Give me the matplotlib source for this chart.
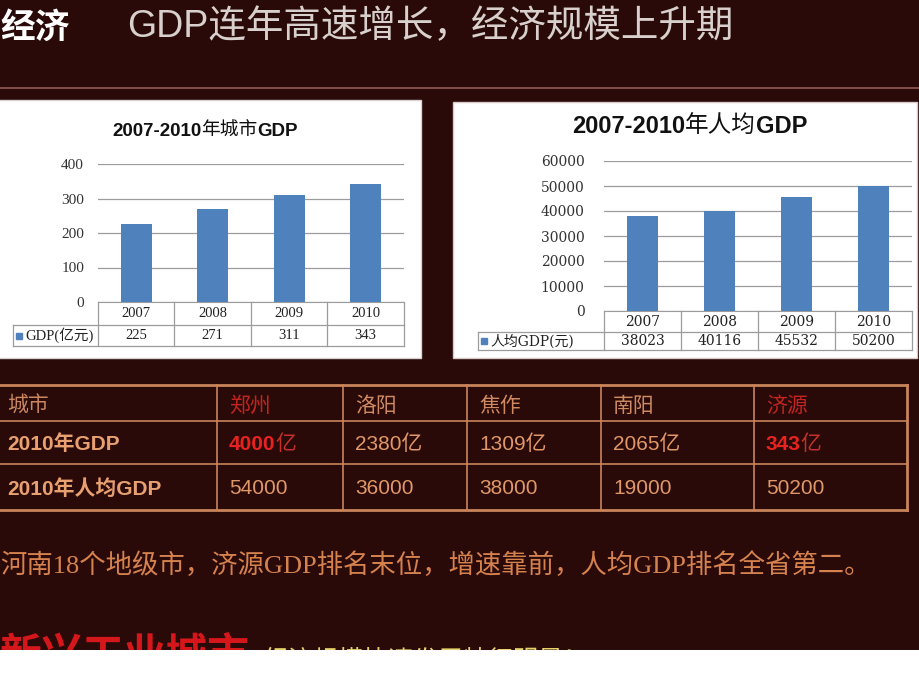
import matplotlib.pyplot as plt
from matplotlib.patches import Rectangle

# ── Data ──────────────────────────────────────────────────────────────────────
years = ["2007", "2008", "2009", "2010"]
city_gdp = [225, 271, 311, 343]                  # 亿元
per_capita_gdp = [38023, 40116, 45532, 50200]    # 元

cities = ["郑州", "洛阳", "焦作", "南阳", "济源"]
gdp_2010 = [4000, 2380, 1309, 2065, 343]         # 亿
per_capita_2010 = [54000, 36000, 38000, 19000, 50200]
highlight = ["郑州", "济源"]

# ── Styles ────────────────────────────────────────────────────────────────────
W, H = 920, 690
BG = "#2a0a08"
BAR = "#4f81bd"
GRID = "#9c9c9c"
ORANGE = "#e09868"
RED = "#c22420"
BRIGHT_RED = "#e8231f"
CJK = "Noto Sans CJK SC"
SANS = ["Liberation Sans", CJK]
SERIF = ["Liberation Serif", CJK]
WSERIF = ["DejaVu Serif", CJK]

plt.rcParams["font.family"] = SANS

fig = plt.figure(figsize=(W / 100, H / 100), dpi=100, facecolor=BG)

# full-figure canvas in pixel coordinates (y downwards)
ax0 = fig.add_axes([0, 0, 1, 1])
ax0.set_xlim(0, W)
ax0.set_ylim(H, 0)
ax0.axis("off")


def px_rect(x0, y0, x1, y1):
    return [x0 / W, 1 - y1 / H, (x1 - x0) / W, (y1 - y0) / H]


def chain(ax, x, y, parts, fontsize, **kw):
    """Draw text pieces one after another on the first piece's baseline."""
    s, fd = parts[0]
    first = ax.text(x, y, s, ha="left", va="baseline", fontsize=fontsize,
                    **fd, **kw)
    t = first
    for s, fd in parts[1:]:
        # x from previous piece, y from first piece (bbox bottom = baseline - descent)
        t = ax.annotate(s, xy=(1, 0), xycoords=(t, first), ha="left",
                        va="baseline", xytext=(0, 0.21 * fontsize),
                        textcoords="offset points", fontsize=fontsize,
                        **fd, **kw)
    return t


# ── Header ────────────────────────────────────────────────────────────────────
ax0.text(0, 27, "经济", color="white", fontsize=25, fontweight="bold",
         family=CJK, va="center", ha="left")
ax0.text(127, 27, "GDP连年高速增长，经济规模上升期", color="#d8d0cc",
         fontsize=27, family=SANS, va="center", ha="left")
ax0.plot([0, W], [88, 88], color="#8a5552", lw=1.3)

# ── Panels ────────────────────────────────────────────────────────────────────
ax0.add_patch(Rectangle((-2, 100), 423, 258, facecolor="white",
                        edgecolor="#d8d0d0", lw=1))
ax0.add_patch(Rectangle((453, 102), 464, 256, facecolor="white",
                        edgecolor="#d8c8c8", lw=1))

bold_sans = dict(family="Liberation Sans", fontweight="bold")
light_cjk = dict(family=CJK, fontweight="normal")

chain(ax0, 112, 136, [("2007-2010", bold_sans), ("年城市", light_cjk),
                      ("GDP", bold_sans)], 13.5, color="#111111")
chain(ax0, 572, 133, [("2007-2010", bold_sans), ("年人均", light_cjk),
                      ("GDP", bold_sans)], 17, color="#111111")


def bar_panel(rect, values, ymax, step, legend_label, fam, tick_size,
              tick_pad, table_size, rows, legend_left):
    x0, y0, x1, y1 = rect
    ax = fig.add_axes(px_rect(x0, y0, x1, y1))
    ax.set_facecolor("none")
    n = len(years)
    xs = list(range(n))
    ax.bar(xs, values, width=0.41, color=BAR, zorder=3)
    ax.set_xlim(-0.5, n - 0.5)
    ax.set_ylim(0, ymax)
    ticks = list(range(0, ymax + 1, step))
    ax.set_yticks(ticks, labels=[str(t) for t in ticks], family=fam,
                  fontsize=tick_size, color="#333333")
    ax.tick_params(axis="y", length=0, pad=tick_pad)
    ax.set_xticks([])
    ax.yaxis.grid(True, color=GRID, lw=0.9, zorder=0)
    for side in ("top", "right", "left"):
        ax.spines[side].set_visible(False)
    ax.spines["bottom"].set_color(GRID)

    # data table under the plot
    trans = ax.get_xaxis_transform()
    hp = y1 - y0
    r1 = -rows[0] / hp
    r2 = -(rows[0] + rows[1]) / hp
    xl = -0.5 + (legend_left - x0) / (x1 - x0) * n
    lk = dict(transform=trans, clip_on=False, color=GRID, lw=0.9)
    for b in [i - 0.5 for i in range(n + 1)]:
        ax.plot([b, b], [0, r2], **lk)
    ax.plot([xl, xl], [r1, r2], **lk)
    ax.plot([xl, n - 0.5], [r1, r1], **lk)
    ax.plot([xl, n - 0.5], [r2, r2], **lk)
    for i, (yr, v) in enumerate(zip(years, values)):
        ax.text(i, r1 / 2, yr, transform=trans, ha="center", va="center",
                family=fam, fontsize=table_size, color="#222222")
        ax.text(i, (r1 + r2) / 2, f"{v}", transform=trans, ha="center",
                va="center", family=fam, fontsize=table_size, color="#222222")
    unit = n / (x1 - x0)
    ax.plot([xl + 6 * unit], [(r1 + r2) / 2], marker="s", ms=5, color=BAR,
            transform=trans, clip_on=False)
    ax.text(xl + 12 * unit, (r1 + r2) / 2, legend_label, transform=trans,
            ha="left", va="center", family=fam, fontsize=table_size,
            color="#222222")
    return ax


bar_panel((98, 164, 404, 302), city_gdp, 400, 100, "GDP(亿元)", SERIF,
          11, 10, 10.5, (23, 21), 13)
bar_panel((604, 161, 912, 311), per_capita_gdp, 60000, 10000, "人均GDP(元)",
          WSERIF, 10, 14, 10, (21, 18), 478)

# ── City comparison table ────────────────────────────────────────────────────
col_edges = [217, 343, 467, 601, 754, 907]
row_edges = [385, 421, 464, 510]
BORDER = "#c9855a"
for y in row_edges:
    lw = 2.0 if y in (row_edges[0], row_edges[-1]) else 1.2
    ax0.plot([0, col_edges[-1]], [y, y], color=BORDER, lw=lw)
for x in col_edges:
    lw = 2.0 if x == col_edges[-1] else 1.2
    ax0.plot([x, x], [row_edges[0], row_edges[-1]], color=BORDER, lw=lw)

row_mid = [(a + b) / 2 for a, b in zip(row_edges[:-1], row_edges[1:])]
base = [m + 7.5 for m in row_mid]
ax0.text(7, row_mid[0] + 3, "城市", family=CJK, fontsize=15, color="#c98660",
         va="center")
ax0.text(7, base[1], "2010年GDP", family=SANS, fontweight="bold",
         fontsize=15, color="#e8a070", va="baseline")
ax0.text(7, base[2], "2010年人均GDP", family=SANS, fontweight="bold",
         fontsize=15, color="#e8a070", va="baseline")

for i, city in enumerate(cities):
    x = col_edges[i] + 12
    hl = city in highlight
    ax0.text(x, row_mid[0] + 3, city, family=CJK, fontsize=15,
             color=RED if hl else "#d08a62", va="center")
    if hl:
        chain(ax0, x, base[1],
              [(f"{gdp_2010[i]}", dict(family="Liberation Sans",
                                       fontweight="bold", color=BRIGHT_RED)),
               ("亿", dict(family=CJK, color="#c4302a"))], 15)
    else:
        ax0.text(x, base[1], f"{gdp_2010[i]}亿", family=SANS, fontsize=15,
                 color=ORANGE, va="baseline")
    ax0.text(x, base[2], f"{per_capita_2010[i]}", family=SANS,
             fontsize=15, color=ORANGE, va="baseline")

# ── Notes ────────────────────────────────────────────────────────────────────
ax0.text(0, 565, "河南18个地级市，济源GDP排名末位，增速靠前，人均GDP排名全省第二。",
         family=SERIF, fontsize=19, color="#d5824f", va="center", ha="left")
ax0.text(0, 667, "新兴工业城市", family=CJK, fontsize=30, fontweight="bold",
         color="#d5171b", va="baseline", ha="left")
ax0.text(263, 667, "经济规模快速发展特征明显！", family=CJK, fontsize=18,
         color="#e8d36a", va="baseline", ha="left")
ax0.add_patch(Rectangle((0, 650), W, H - 650, facecolor="white",
                        edgecolor="none", zorder=10))

fig.savefig("out.png", dpi=100, facecolor=BG)
